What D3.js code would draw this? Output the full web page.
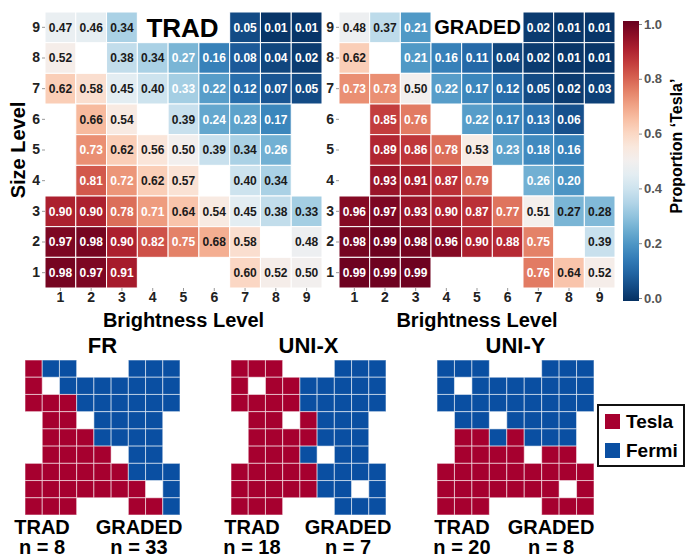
<!DOCTYPE html>
<html>
<head>
<meta charset="utf-8">
<script src="https://cdn.jsdelivr.net/npm/d3@7"></script>
<style>
  html, body { margin: 0; padding: 0; background: #fff; }
  svg { display: block; font-family: "Liberation Sans", Arial, sans-serif; }
</style>
</head>
<body>
<svg id="chart" width="686" height="559"></svg>
<script>
// Levels of the two stimulus dimensions
const brightnessLevels = [1, 2, 3, 4, 5, 6, 7, 8, 9];
const sizeLevels = [9, 8, 7, 6, 5, 4, 3, 2, 1];

// Proportion of 'Tesla' responses, one row per size level (9 at top), null = untested cell
const tradProportion = [
  [0.47, 0.46, 0.34, null, null, null, 0.05, 0.01, 0.01],
  [0.52, null, 0.38, 0.34, 0.27, 0.16, 0.08, 0.04, 0.02],
  [0.62, 0.58, 0.45, 0.40, 0.33, 0.22, 0.12, 0.07, 0.05],
  [null, 0.66, 0.54, null, 0.39, 0.24, 0.23, 0.17, null],
  [null, 0.73, 0.62, 0.56, 0.50, 0.39, 0.34, 0.26, null],
  [null, 0.81, 0.72, 0.62, 0.57, null, 0.40, 0.34, null],
  [0.90, 0.90, 0.78, 0.71, 0.64, 0.54, 0.45, 0.38, 0.33],
  [0.97, 0.98, 0.90, 0.82, 0.75, 0.68, 0.58, null, 0.48],
  [0.98, 0.97, 0.91, null, null, null, 0.60, 0.52, 0.50]
];
const gradedProportion = [
  [0.48, 0.37, 0.21, null, null, null, 0.02, 0.01, 0.01],
  [0.62, null, 0.21, 0.16, 0.11, 0.04, 0.02, 0.01, 0.01],
  [0.73, 0.73, 0.50, 0.22, 0.17, 0.12, 0.05, 0.02, 0.03],
  [null, 0.85, 0.76, null, 0.22, 0.17, 0.13, 0.06, null],
  [null, 0.89, 0.86, 0.78, 0.53, 0.23, 0.18, 0.16, null],
  [null, 0.93, 0.91, 0.87, 0.79, null, 0.26, 0.20, null],
  [0.96, 0.97, 0.93, 0.90, 0.87, 0.77, 0.51, 0.27, 0.28],
  [0.98, 0.99, 0.98, 0.96, 0.90, 0.88, 0.75, null, 0.39],
  [0.99, 0.99, 0.99, null, null, null, 0.76, 0.64, 0.52]
];
// Label ink: light below the low cut or at/above the high cut; listed cells keep dark ink
const tradLabelCuts = [0.335, 0.695];
const tradDarkLabels = [[3, 9]];
const gradedLabelCuts = [0.265, 0.695];
const gradedDarkLabels = [];

// Model category choices per cell (T = Tesla, F = Fermi, . = untested), size 9 at top
const frChoices = [
  "TFF...FFF",
  "T.FFFFFFF",
  "TTTFFFFFF",
  ".TT.FFFF.",
  ".TTTFFFF.",
  ".TTTT.FF.",
  "TTTTTTFFF",
  "TTTTTTT.F",
  "TTT...TTF"
];
const uniXChoices = [
  "TTT...FFF",
  "T.TTFFFFF",
  "TTTTFFFFF",
  ".TT.TFFF.",
  ".TTTTFFF.",
  ".TTTF.FF.",
  "TTTTTFFFF",
  "TTTTTFF.F",
  "TTT...FFF"
];
const uniYChoices = [
  "FFF...FFF",
  "F.FFFFFFF",
  "FFFFFFFFF",
  ".FF.FFFF.",
  ".TTFTFFF.",
  ".TTTT.TT.",
  "TTTTTTTTT",
  "TTTTTTT.T",
  "TTT...TTT"
];
const modelNames = ["FR", "UNI-X", "UNI-Y"];
const tradCounts = [8, 18, 20];
const gradedCounts = [33, 7, 8];
const legendLabels = ["Tesla", "Fermi"];
const colorbarTicks = [0.0, 0.2, 0.4, 0.6, 0.8, 1.0];

const TESLA = "#a6002f";
const FERMI = "#0a4fa2";
const heatColor = v => d3.interpolateRdBu(1 - v);

const svg = d3.select("#chart");

function cellsOf(matrix) {
  const out = [];
  matrix.forEach((row, i) => row.forEach((v, j) => {
    if (v !== null) out.push({ size: sizeLevels[i], bright: brightnessLevels[j], v });
  }));
  return out;
}

function heatmap(opts) {
  const x = d3.scaleBand().domain(brightnessLevels).range(opts.xRange);
  const y = d3.scaleBand().domain(sizeLevels).range([12, 288]);
  const g = svg.append("g");
  const cells = cellsOf(opts.values);
  const isDark = d => opts.dark.some(p => p[0] === d.size && p[1] === d.bright);
  const light = d => !isDark(d) && (d.v < opts.cuts[0] || d.v >= opts.cuts[1]);

  g.selectAll("rect").data(cells).join("rect")
    .attr("x", d => x(d.bright)).attr("y", d => y(d.size))
    .attr("width", x.bandwidth()).attr("height", y.bandwidth())
    .attr("fill", d => heatColor(d.v))
    .attr("stroke", "#fff").attr("stroke-width", 1);

  g.selectAll("text.val").data(cells).join("text")
    .attr("class", "val")
    .attr("x", d => x(d.bright) + x.bandwidth() / 2)
    .attr("y", d => y(d.size) + y.bandwidth() / 2)
    .attr("dy", "0.36em")
    .attr("text-anchor", "middle")
    .attr("font-size", 12).attr("font-weight", "bold")
    .attr("fill", d => light(d) ? "#fff" : "#1a1a1a")
    .text(d => d3.format(".2f")(d.v));

  const ax = g.append("g").attr("transform", `translate(0,288)`)
    .call(d3.axisBottom(x).tickSize(3).tickPadding(1));
  const ay = g.append("g").attr("transform", `translate(${opts.xRange[0]},0)`)
    .call(d3.axisLeft(y).tickSize(3).tickPadding(2));
  [ax, ay].forEach(a => {
    a.select(".domain").remove();
    a.selectAll(".tick line").attr("stroke", "#999");
    a.selectAll(".tick text").attr("font-size", 14).attr("font-weight", "bold")
      .attr("fill", "#222").attr("font-family", "Liberation Sans, Arial, sans-serif");
  });

  g.append("text")
    .attr("x", (opts.xRange[0] + opts.xRange[1]) / 2).attr("y", 327)
    .attr("text-anchor", "middle").attr("font-size", 20).attr("font-weight", "bold")
    .text("Brightness Level");

  g.append("text")
    .attr("x", opts.titleX).attr("y", opts.titleY)
    .attr("text-anchor", "middle").attr("font-size", opts.titleSize).attr("font-weight", "bold")
    .text(opts.title);
}

heatmap({ values: tradProportion, xRange: [45, 322], cuts: tradLabelCuts, dark: tradDarkLabels,
          title: "TRAD", titleX: 182.5, titleY: 37, titleSize: 26 });
heatmap({ values: gradedProportion, xRange: [339, 615], cuts: gradedLabelCuts, dark: gradedDarkLabels,
          title: "GRADED", titleX: 477.5, titleY: 34, titleSize: 20 });

svg.append("text")
  .attr("transform", "translate(25,150) rotate(-90)")
  .attr("text-anchor", "middle").attr("font-size", 20).attr("font-weight", "bold")
  .text("Size Level");

// Colour bar
const defs = svg.append("defs");
const grad = defs.append("linearGradient").attr("id", "cbar")
  .attr("x1", 0).attr("y1", 1).attr("x2", 0).attr("y2", 0);
d3.range(0, 1.0001, 0.05).forEach(t => {
  grad.append("stop").attr("offset", t).attr("stop-color", heatColor(t));
});
const cbScale = d3.scaleLinear().domain([0, 1]).range([298, 24]);
svg.append("rect")
  .attr("x", 623).attr("y", cbScale(1) - 3).attr("width", 16)
  .attr("height", cbScale(0) - cbScale(1) + 6)
  .attr("fill", "url(#cbar)");
const cbAxis = svg.append("g").attr("transform", "translate(639,0)")
  .call(d3.axisRight(cbScale).tickValues(colorbarTicks).tickFormat(d3.format(".1f"))
    .tickSize(3).tickPadding(2));
cbAxis.select(".domain").remove();
cbAxis.selectAll(".tick line").attr("stroke", "#888");
cbAxis.selectAll(".tick text").attr("font-size", 13).attr("font-weight", "bold")
  .attr("fill", "#555").attr("font-family", "Liberation Sans, Arial, sans-serif");
svg.append("text")
  .attr("transform", "translate(682,146) rotate(-90)")
  .attr("text-anchor", "middle").attr("font-size", 16).attr("font-weight", "bold")
  .text("Proportion \u2018Tesla\u2019");

// Model choice grids
const gridSpecs = [
  { choices: frChoices, xRange: [25, 180] },
  { choices: uniXChoices, xRange: [231, 386] },
  { choices: uniYChoices, xRange: [437, 594] }
];
const labelCentres = [[42, 139], [252, 348], [462, 551]];

gridSpecs.forEach((spec, k) => {
  const x = d3.scaleBand().domain(brightnessLevels).range(spec.xRange);
  const y = d3.scaleBand().domain(sizeLevels).range([360, 515]);
  const cells = [];
  spec.choices.forEach((row, i) => row.split("").forEach((c, j) => {
    if (c !== ".") cells.push({ size: sizeLevels[i], bright: brightnessLevels[j], c });
  }));
  const g = svg.append("g");
  g.selectAll("rect").data(cells).join("rect")
    .attr("x", d => x(d.bright)).attr("y", d => y(d.size))
    .attr("width", x.bandwidth()).attr("height", y.bandwidth())
    .attr("fill", d => d.c === "T" ? TESLA : FERMI)
    .attr("stroke", "rgba(255,255,255,0.55)").attr("stroke-width", 1);

  g.append("text")
    .attr("x", (spec.xRange[0] + spec.xRange[1]) / 2).attr("y", 353)
    .attr("text-anchor", "middle").attr("font-size", 22).attr("font-weight", "bold")
    .text(modelNames[k]);

  const [cT, cG] = labelCentres[k];
  [[cT, "TRAD", `n = ${tradCounts[k]}`], [cG, "GRADED", `n = ${gradedCounts[k]}`]].forEach(([cx, a, b]) => {
    g.append("text").attr("x", cx).attr("y", 534).attr("text-anchor", "middle")
      .attr("font-size", 20).attr("font-weight", "bold").text(a);
    g.append("text").attr("x", cx).attr("y", 554).attr("text-anchor", "middle")
      .attr("font-size", 20).attr("font-weight", "bold").text(b);
  });
});

// Legend
const lg = svg.append("g");
lg.append("rect").attr("x", 598).attr("y", 405).attr("width", 86).attr("height", 61)
  .attr("fill", "#fff").attr("stroke", "#111").attr("stroke-width", 2);
legendLabels.forEach((name, i) => {
  const yy = 414 + i * 29;
  lg.append("rect").attr("x", 605).attr("y", yy).attr("width", 15).attr("height", 15)
    .attr("fill", i === 0 ? TESLA : FERMI);
  lg.append("text").attr("x", 626).attr("y", yy + 7.5).attr("dy", "0.36em")
    .attr("font-size", 19).attr("font-weight", "bold").text(name);
});
</script>
</body>
</html>
